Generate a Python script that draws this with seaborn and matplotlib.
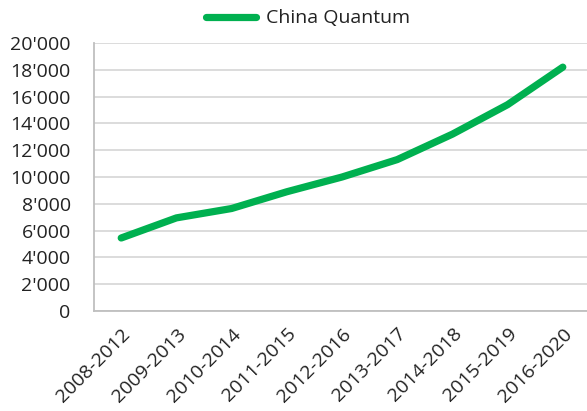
import matplotlib
matplotlib.use("Agg")
import matplotlib.pyplot as plt
from matplotlib.ticker import FuncFormatter, MultipleLocator
from matplotlib.transforms import ScaledTranslation
import seaborn as sns
import pandas as pd

periods = ["2008-2012", "2009-2013", "2010-2014", "2011-2015", "2012-2016",
           "2013-2017", "2014-2018", "2015-2019", "2016-2020"]
china_quantum = [5450, 6950, 7650, 8900, 10000, 11300, 13200, 15400, 18200]
series_name = "China Quantum"

df = pd.DataFrame({"period": periods, "value": china_quantum})
df["pos"] = range(len(periods))

sns.set_theme(style="white")
plt.rcParams["font.family"] = ["Open Sans", "DejaVu Sans"]

FS = 14
TXT = "#222222"

fig = plt.figure(figsize=(5.87, 4.11), dpi=100)
ax = fig.add_axes([0.1595, 0.2433, 0.8463, 0.652])

sns.lineplot(data=df, x="pos", y="value", ax=ax, color="#00b050",
             linewidth=5.2, solid_capstyle="round", label=series_name)

ax.set_xlim(-0.5, len(periods) - 0.5)
ax.set_ylim(0, 20000)
ax.yaxis.set_major_locator(MultipleLocator(2000))
ax.yaxis.set_major_formatter(
    FuncFormatter(lambda v, _: f"{v:,.0f}".replace(",", "'")))

ax.set_xticks(df["pos"])
ax.set_xticklabels(periods, rotation=45, ha="right", rotation_mode="anchor")
shift = ScaledTranslation(-6 / 100, 0, fig.dpi_scale_trans)
for lbl in ax.get_xticklabels():
    lbl.set_transform(lbl.get_transform() + shift)
ax.set_xticks([p - 0.5 for p in range(len(periods) + 1)], minor=True)
ax.tick_params(axis="x", which="major", length=0, pad=10,
               labelsize=FS, labelcolor=TXT)
ax.tick_params(axis="x", which="minor", length=5, width=1.2, color="#bfbfbf")
ax.tick_params(axis="y", length=5, width=1.2, color="#bfbfbf",
               labelsize=FS, labelcolor=TXT, pad=11.5)

ax.grid(axis="y", color="#d9d9d9", linewidth=1.3)
ax.set_axisbelow(True)
ax.set_xlabel("")
ax.set_ylabel("")
for side in ("top", "right"):
    ax.spines[side].set_visible(False)
for side in ("left", "bottom"):
    ax.spines[side].set_color("#bfbfbf")
    ax.spines[side].set_linewidth(1.3)

leg = ax.legend(loc="center", frameon=False, fontsize=FS,
                handlelength=2.55, handletextpad=0.55)
leg.set_bbox_to_anchor((0.525, 0.955), transform=fig.transFigure)
for t in leg.get_texts():
    t.set_color(TXT)

fig.savefig("out.png", dpi=100)
